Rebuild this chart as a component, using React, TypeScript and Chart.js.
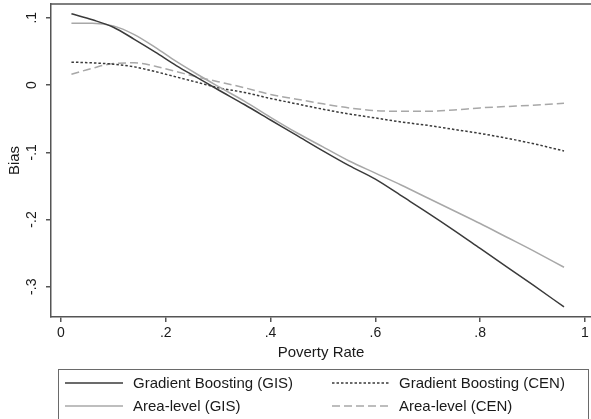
import React, { useEffect, useRef } from "react";
import { Chart, registerables } from "chart.js";

Chart.register(...registerables);

// ---- data ----
const POVERTY_RATE = [0.02, 0.06, 0.1, 0.14, 0.18, 0.22, 0.26, 0.3, 0.35, 0.4, 0.45, 0.5, 0.55, 0.6, 0.65, 0.7, 0.75, 0.8, 0.85, 0.9, 0.96];
const GB_GIS = [0.106, 0.097, 0.086, 0.068, 0.049, 0.029, 0.011, -0.007, -0.029, -0.052, -0.075, -0.098, -0.12, -0.14, -0.165, -0.19, -0.216, -0.243, -0.27, -0.297, -0.33];
const AREA_GIS = [0.092, 0.092, 0.088, 0.075, 0.056, 0.035, 0.016, -0.002, -0.024, -0.048, -0.071, -0.092, -0.113, -0.131, -0.149, -0.168, -0.187, -0.206, -0.226, -0.246, -0.271];
const GB_CEN = [0.034, 0.033, 0.031, 0.027, 0.02, 0.012, 0.004, -0.004, -0.011, -0.02, -0.028, -0.036, -0.043, -0.049, -0.055, -0.06, -0.066, -0.072, -0.079, -0.087, -0.098];
const AREA_CEN = [0.016, 0.025, 0.032, 0.033, 0.028, 0.02, 0.012, 0.005, -0.004, -0.014, -0.021, -0.028, -0.034, -0.038, -0.039, -0.039, -0.037, -0.034, -0.032, -0.03, -0.027];

const SERIES_NAMES = ["Gradient Boosting (GIS)", "Area-level (GIS)", "Gradient Boosting (CEN)", "Area-level (CEN)"];

const X_TICKS = [0, 0.2, 0.4, 0.6, 0.8, 1];
const X_TICK_LABELS = ["0", ".2", ".4", ".6", ".8", "1"];
const Y_TICKS = [-0.3, -0.2, -0.1, 0, 0.1];
const Y_TICK_LABELS = ["-.3", "-.2", "-.1", "0", ".1"];
const X_TITLE = "Poverty Rate";
const Y_TITLE = "Bias";

const X_MIN = -0.019;
const X_MAX = 1.0115;
const Y_MIN = -0.345;
const Y_MAX = 0.1205;

// ---- styles ----
const FONT = '"Liberation Sans", Arial, Helvetica, sans-serif';
const DARK = "#3a3a3a";
const LIGHT = "#a8a8a8";
const AXIS = "#555555";
const STYLES = [
  { color: DARK, dash: [] as number[] },
  { color: LIGHT, dash: [] as number[] },
  { color: DARK, dash: [2.5, 2] },
  { color: LIGHT, dash: [8, 4] },
];

const framePlugin = {
  id: "frame",
  afterDraw(chart: any) {
    const { ctx, chartArea } = chart;
    ctx.save();
    ctx.strokeStyle = AXIS;
    ctx.lineWidth = 1.5;
    ctx.beginPath();
    ctx.moveTo(chartArea.left, chartArea.top);
    ctx.lineTo(chart.width, chartArea.top);
    ctx.stroke();
    ctx.restore();
  },
};

const legendPlugin = {
  id: "customLegend",
  afterDraw(chart: any) {
    const { ctx } = chart;
    ctx.save();
    ctx.strokeStyle = "#6a6a6a";
    ctx.lineWidth = 1;
    ctx.strokeRect(58.5, 369.5, 530, 70);
    const cols = [
      { lx0: 65, lx1: 123, tx: 133 },
      { lx0: 332, lx1: 389, tx: 399 },
    ];
    const rows = [383, 406];
    const layout = [
      [0, 0],
      [1, 0],
      [0, 1],
      [1, 1],
    ];
    ctx.font = `15px ${FONT}`;
    ctx.textBaseline = "middle";
    ctx.fillStyle = "#1a1a1a";
    SERIES_NAMES.forEach((name, i) => {
      const [r, c] = layout[i];
      const col = cols[c];
      const y = rows[r];
      ctx.beginPath();
      ctx.strokeStyle = STYLES[i].color;
      ctx.lineWidth = 1.5;
      ctx.setLineDash(STYLES[i].dash);
      ctx.moveTo(col.lx0, y);
      ctx.lineTo(col.lx1, y);
      ctx.stroke();
      ctx.setLineDash([]);
      ctx.fillText(name, col.tx, y + 1);
    });
    ctx.restore();
  },
};

export default function App() {
  const ref = useRef<HTMLCanvasElement>(null);
  useEffect(() => {
    const canvas = ref.current;
    if (!canvas) return;
    const mk = (ys: number[]) => POVERTY_RATE.map((x, i) => ({ x, y: ys[i] }));
    const seriesData = [GB_GIS, AREA_GIS, GB_CEN, AREA_CEN];
    const chart = new Chart(canvas, {
      type: "line",
      data: {
        datasets: seriesData.map((ys, i) => ({
          label: SERIES_NAMES[i],
          data: mk(ys),
          borderColor: STYLES[i].color,
          borderDash: STYLES[i].dash,
          borderWidth: 1.5,
          pointRadius: 0,
          fill: false,
          cubicInterpolationMode: "monotone" as const,
        })),
      },
      options: {
        responsive: false,
        animation: false,
        layout: { padding: { top: 4, left: 0, right: 0, bottom: 57 } },
        plugins: { legend: { display: false }, tooltip: { enabled: false } },
        scales: {
          x: {
            type: "linear",
            min: X_MIN,
            max: X_MAX,
            afterBuildTicks: (s: any) => {
              s.ticks = X_TICKS.map((v) => ({ value: v }));
            },
            afterFit: (s: any) => {
              s.height = 45;
              s.paddingLeft = 0;
              s.paddingRight = 0;
            },
            grid: { drawOnChartArea: false, drawTicks: true, tickLength: 5, color: AXIS, lineWidth: 1.5 },
            border: { display: true, color: AXIS, width: 1.5 },
            ticks: {
              padding: 3,
              color: "#1a1a1a",
              font: { family: FONT, size: 14 },
              maxRotation: 0,
              minRotation: 0,
              autoSkip: false,
              callback: (_v: any, i: number) => X_TICK_LABELS[i],
            },
            title: { display: true, text: X_TITLE, color: "#1a1a1a", font: { family: FONT, size: 15 }, padding: 0 },
          },
          y: {
            type: "linear",
            min: Y_MIN,
            max: Y_MAX,
            afterBuildTicks: (s: any) => {
              s.ticks = Y_TICKS.map((v) => ({ value: v }));
            },
            afterFit: (s: any) => {
              s.width = 51;
              s.paddingTop = 0;
              s.paddingBottom = 0;
            },
            grid: { drawOnChartArea: false, drawTicks: true, tickLength: 5, color: AXIS, lineWidth: 1.5 },
            border: { display: true, color: AXIS, width: 1.5 },
            ticks: {
              padding: 6,
              color: "#1a1a1a",
              font: { family: FONT, size: 14 },
              minRotation: 90,
              maxRotation: 90,
              crossAlign: "center",
              autoSkip: false,
              callback: (_v: any, i: number) => Y_TICK_LABELS[i],
            },
            title: { display: true, text: Y_TITLE, color: "#1a1a1a", font: { family: FONT, size: 15 }, padding: { top: 6, bottom: 0 } },
          },
        },
      },
      plugins: [framePlugin, legendPlugin],
    } as any);
    return () => chart.destroy();
  }, []);
  return (
    <div style={{ position: "absolute", left: 0, top: 0, width: 591, height: 419, background: "#fff", overflow: "hidden" }}>
      <canvas ref={ref} width={591} height={419} style={{ display: "block" }} />
    </div>
  );
}
